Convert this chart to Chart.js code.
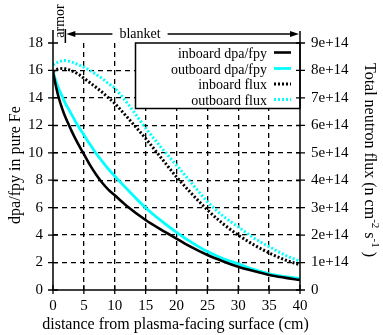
<!DOCTYPE html>
<html>
<head>
<meta charset="utf-8">
<script src="https://cdn.jsdelivr.net/npm/chart.js@4/dist/chart.umd.min.js"></script>
<style>
  html, body { margin: 0; padding: 0; background: #fff; }
  #wrap { width: 383px; height: 335px; }
</style>
</head>
<body>
<div id="wrap"><canvas id="c" width="383" height="335"></canvas></div>
<script>
// Distance from the plasma-facing surface (cm)
const distance = [0, 0.5, 1, 1.5, 2, 2.5, 3, 4, 5, 6, 7, 8, 9, 10, 12, 15, 17.5, 20, 22.5, 25, 27.5, 30, 32.5, 35, 37.5, 40];

// Damage rate in pure Fe (dpa per full-power year)
const inboardDpa  = [15.9, 14.8, 13.9, 13.2, 12.6, 12.1, 11.6, 10.7, 9.9, 9.1, 8.4, 7.8, 7.3, 6.9, 6.1, 5.1, 4.4, 3.75, 3.1, 2.55, 2.1, 1.7, 1.38, 1.1, 0.9, 0.73];
const outboardDpa = [15.9, 15.2, 14.6, 14.1, 13.6, 13.2, 12.8, 12.0, 11.3, 10.6, 9.95, 9.35, 8.8, 8.3, 7.35, 6.0, 5.05, 4.2, 3.45, 2.8, 2.3, 1.9, 1.5, 1.18, 0.98, 0.85];

// Total neutron flux (n cm^-2 s^-1)
const inboardFlux  = [7.95e14, 8.02e14, 8.06e14, 8.07e14, 8.06e14, 8.03e14, 7.99e14, 7.88e14, 7.72e14, 7.55e14, 7.38e14, 7.2e14, 7.0e14, 6.8e14, 6.3e14, 5.52e14, 4.82e14, 4.12e14, 3.5e14, 2.92e14, 2.42e14, 2.0e14, 1.65e14, 1.35e14, 1.1e14, 0.92e14];
const outboardFlux = [8.2e14, 8.27e14, 8.32e14, 8.35e14, 8.36e14, 8.34e14, 8.31e14, 8.22e14, 8.12e14, 8.0e14, 7.85e14, 7.7e14, 7.52e14, 7.35e14, 6.82e14, 5.9e14, 5.2e14, 4.55e14, 3.88e14, 3.22e14, 2.7e14, 2.3e14, 1.9e14, 1.58e14, 1.28e14, 1.04e14];

const seriesNames = ['inboard dpa/fpy', 'outboard dpa/fpy', 'inboard flux', 'outboard flux'];

// Axis ticks
const xTicks  = [0, 5, 10, 15, 20, 25, 30, 35, 40];
const yTicks  = [0, 2, 4, 6, 8, 10, 12, 14, 16, 18];
const y2Ticks = [0, 1e14, 2e14, 3e14, 4e14, 5e14, 6e14, 7e14, 8e14, 9e14];

const armorEdge = 2; // cm, armor/blanket boundary

const SERIF = '"Liberation Serif", "DejaVu Serif", serif';
const CYAN = '#00ffff';

Chart.defaults.font.family = SERIF;
Chart.defaults.color = '#000';

const pts = arr => distance.map((d, i) => ({ x: d, y: arr[i] }));

const styles = [
  { color: '#000', width: 2.6, dash: [] },
  { color: CYAN,  width: 2.8, dash: [] },
  { color: '#000', width: 3, dash: [2, 2] },
  { color: CYAN,  width: 3, dash: [2, 2] }
];

const decor = {
  id: 'decor',
  afterDatasetsDraw(chart) {
    const { ctx, chartArea: a, scales } = chart;
    const xs = scales.x, ys = scales.y, y2 = scales.y2;
    ctx.save();

    // key box
    const bx = 135.5, by = a.top, bw = a.right - bx, bh = 65.5;
    ctx.fillStyle = '#fff';
    ctx.fillRect(bx, by, bw, bh);
    ctx.strokeStyle = '#000';
    ctx.lineWidth = 1.5;
    ctx.strokeRect(bx, by, bw, bh);

    ctx.font = '14px ' + SERIF;
    ctx.textAlign = 'right';
    ctx.textBaseline = 'alphabetic';
    const base = [57.5, 73.5, 89, 104.5];
    seriesNames.forEach((name, i) => {
      ctx.fillStyle = '#000';
      ctx.fillText(name, 267, base[i]);
      const s = styles[i];
      ctx.beginPath();
      ctx.strokeStyle = s.color;
      ctx.lineWidth = s.width;
      ctx.setLineDash(s.dash);
      ctx.moveTo(274, base[i] - 5);
      ctx.lineTo(291, base[i] - 5);
      ctx.stroke();
      ctx.setLineDash([]);
    });

    // axis lines
    ctx.strokeStyle = '#000';
    ctx.lineWidth = 1.5;
    ctx.beginPath();
    ctx.moveTo(a.left, 30);
    ctx.lineTo(a.left, a.bottom);
    ctx.lineTo(a.right, a.bottom);
    ctx.lineTo(a.right, 31);
    ctx.stroke();

    // tick marks
    ctx.lineWidth = 1.3;
    ctx.beginPath();
    yTicks.forEach(v => {
      const p = ys.getPixelForValue(v);
      ctx.moveTo(a.left - 5, p); ctx.lineTo(a.left + 5, p);
    });
    y2Ticks.forEach(v => {
      const p = y2.getPixelForValue(v);
      ctx.moveTo(a.right - 4, p); ctx.lineTo(a.right + 5, p);
    });
    xTicks.forEach(v => {
      const p = xs.getPixelForValue(v);
      ctx.moveTo(p, a.bottom - 5); ctx.lineTo(p, a.bottom + 4);
    });
    ctx.stroke();

    // armor / blanket annotation
    const xa = xs.getPixelForValue(armorEdge);
    const ay = 34;
    ctx.lineWidth = 1.5;
    ctx.beginPath();
    ctx.moveTo(xa, 29); ctx.lineTo(xa, a.top);
    ctx.stroke();

    ctx.font = '14px ' + SERIF;
    ctx.fillStyle = '#000';
    ctx.save();
    ctx.translate(60, 21);
    ctx.rotate(-Math.PI / 2);
    ctx.textAlign = 'center';
    ctx.textBaseline = 'middle';
    ctx.fillText('armor', 0, 0);
    ctx.restore();

    const label = 'blanket';
    const tx = 140;
    const tw = ctx.measureText(label).width;
    ctx.textAlign = 'center';
    ctx.textBaseline = 'middle';
    ctx.fillText(label, tx, ay);

    ctx.lineWidth = 1.5;
    ctx.beginPath();
    ctx.moveTo(xa + 6, ay); ctx.lineTo(tx - tw / 2 - 7, ay);
    ctx.moveTo(tx + tw / 2 + 7, ay); ctx.lineTo(a.right - 6, ay);
    ctx.stroke();
    ctx.beginPath();
    ctx.moveTo(xa + 1, ay); ctx.lineTo(xa + 10, ay - 3); ctx.lineTo(xa + 10, ay + 3); ctx.closePath();
    ctx.moveTo(a.right - 1, ay); ctx.lineTo(a.right - 10, ay - 3); ctx.lineTo(a.right - 10, ay + 3); ctx.closePath();
    ctx.fill();

    // axis titles
    ctx.font = '16px ' + SERIF;
    ctx.textAlign = 'center';
    ctx.textBaseline = 'middle';
    ctx.fillText('distance from plasma-facing surface (cm)', 175.5, 325);

    ctx.save();
    ctx.translate(16, 165);
    ctx.rotate(-Math.PI / 2);
    ctx.fillText('dpa/fpy in pure Fe', 0, 0);
    ctx.restore();

    // right title with superscripts, reading top to bottom
    ctx.save();
    ctx.translate(369, 160);
    ctx.rotate(Math.PI / 2);
    const parts = [
      ['Total neutron flux (n cm', 16, 0],
      ['-2', 11, -6],
      [' s', 16, 0],
      ['-1', 11, -6],
      [' )', 16, 0]
    ];
    let total = 0;
    parts.forEach(p => { ctx.font = p[1] + 'px ' + SERIF; total += ctx.measureText(p[0]).width; });
    let cx = -total / 2;
    ctx.textAlign = 'left';
    parts.forEach(p => {
      ctx.font = p[1] + 'px ' + SERIF;
      ctx.fillText(p[0], cx, p[2]);
      cx += ctx.measureText(p[0]).width;
    });
    ctx.restore();

    ctx.restore();
  }
};

const inner = (v, lo, hi) => v > lo && v < hi;

new Chart(document.getElementById('c'), {
  type: 'line',
  data: {
    datasets: [
      { label: seriesNames[0], data: pts(inboardDpa),  yAxisID: 'y',  borderColor: styles[0].color, borderWidth: styles[0].width },
      { label: seriesNames[1], data: pts(outboardDpa), yAxisID: 'y',  borderColor: styles[1].color, borderWidth: styles[1].width },
      { label: seriesNames[2], data: pts(inboardFlux), yAxisID: 'y2', borderColor: styles[2].color, borderWidth: styles[2].width, borderDash: styles[2].dash },
      { label: seriesNames[3], data: pts(outboardFlux), yAxisID: 'y2', borderColor: styles[3].color, borderWidth: styles[3].width, borderDash: styles[3].dash }
    ]
  },
  options: {
    responsive: false,
    animation: false,
    devicePixelRatio: 1,
    layout: { padding: { top: 43, left: 0, right: 0, bottom: 0 } },
    elements: {
      point: { radius: 0 },
      line: { cubicInterpolationMode: 'monotone', fill: false, borderCapStyle: 'butt' }
    },
    plugins: { legend: { display: false }, tooltip: { enabled: false } },
    scales: {
      x: {
        type: 'linear', min: 0, max: 40,
        afterFit: s => { s.height = 45; },
        afterBuildTicks: s => { s.ticks = xTicks.map(v => ({ value: v })); },
        ticks: { font: { size: 15 }, padding: 7, maxRotation: 0, autoSkip: false, color: '#000' },
        grid: {
          drawTicks: false, lineWidth: 1.3,
          color: c => inner(c.tick.value, 0, 40) ? '#000' : 'rgba(0,0,0,0)'
        },
        border: { display: false, dash: [5, 4] }
      },
      y: {
        type: 'linear', position: 'left', min: 0, max: 18,
        afterFit: s => { s.width = 53; },
        afterBuildTicks: s => { s.ticks = yTicks.map(v => ({ value: v })); },
        ticks: { font: { size: 15 }, padding: 10, autoSkip: false, color: '#000' },
        grid: {
          drawTicks: false, lineWidth: 1.3,
          color: c => inner(c.tick.value, 0, 18) ? '#000' : 'rgba(0,0,0,0)'
        },
        border: { display: false, dash: [5, 4] }
      },
      y2: {
        type: 'linear', position: 'right', min: 0, max: 9e14,
        afterFit: s => { s.width = 83; },
        afterBuildTicks: s => { s.ticks = y2Ticks.map(v => ({ value: v })); },
        ticks: {
          font: { size: 15 }, padding: 11, autoSkip: false, color: '#000',
          callback: v => v === 0 ? '0' : Number(v.toPrecision(3)).toExponential()
        },
        grid: { display: false, drawTicks: false },
        border: { display: false }
      }
    }
  },
  plugins: [decor]
});
</script>
</body>
</html>
